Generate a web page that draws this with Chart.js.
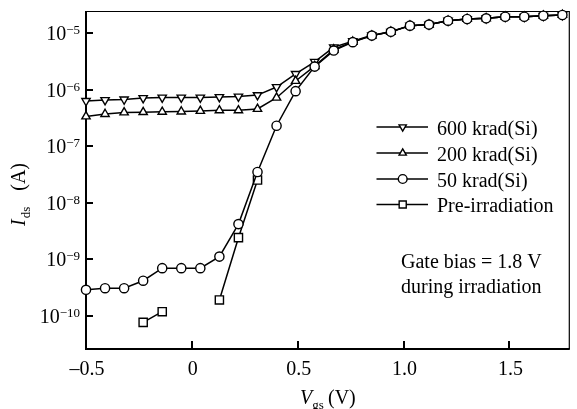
<!DOCTYPE html>
<html><head><meta charset="utf-8">
<script src="https://cdn.jsdelivr.net/npm/chart.js@4/dist/chart.umd.min.js"></script>
<style>html,body{margin:0;padding:0;background:#fff}#wrap{width:577px;height:409px}</style>
</head><body><div id="wrap"><canvas id="c" width="577" height="409"></canvas></div>
<script>
// Gate voltage (V)
const vgs = [-0.5,-0.41,-0.32,-0.23,-0.14,-0.05,0.04,0.13,0.22,0.31,0.40,0.49,0.58,0.67,0.76,0.85,0.94,1.03,1.12,1.21,1.30,1.39,1.48,1.57,1.66,1.75];
// Drain current Ids (A)
const krad600 = [6.3e-7,6.55e-7,6.7e-7,7.1e-7,7.25e-7,7.25e-7,7.25e-7,7.4e-7,7.55e-7,8.0e-7,1.11e-6,1.89e-6,3.1e-6,5.6e-6,7.2e-6,9.1e-6,1.05e-5,1.35e-5,1.41e-5,1.65e-5,1.77e-5,1.82e-5,1.94e-5,1.94e-5,2.02e-5,2.08e-5];
const krad200 = [3.35e-7,3.7e-7,3.95e-7,4.0e-7,4.05e-7,4.1e-7,4.2e-7,4.3e-7,4.3e-7,4.55e-7,7.2e-7,1.42e-6,2.6e-6,5.1e-6,7.0e-6,9.0e-6,1.05e-5,1.35e-5,1.41e-5,1.65e-5,1.77e-5,1.82e-5,1.94e-5,1.94e-5,2.02e-5,2.08e-5];
const krad50 = [2.9e-10,3.1e-10,3.1e-10,4.2e-10,7.0e-10,7.0e-10,7.0e-10,1.12e-9,4.2e-9,3.5e-8,2.3e-7,9.4e-7,2.55e-6,4.9e-6,6.9e-6,9.0e-6,1.05e-5,1.35e-5,1.41e-5,1.65e-5,1.77e-5,1.82e-5,1.94e-5,1.94e-5,2.02e-5,2.08e-5];
const preIrr = [null,null,null,7.7e-11,1.19e-10,null,null,1.92e-10,2.42e-9,2.53e-8,null,null,null,null,null,null,null,null,null,null,null,null,null,null,null,null];

const seriesNames = ['600 krad(Si)','200 krad(Si)','50 krad(Si)','Pre-irradiation'];
const xTicks = [-0.5,0,0.5,1.0,1.5];
const xTickLabels = ['\u20130.5','0','0.5','1.0','1.5'];
const yTickExps = [-5,-6,-7,-8,-9,-10];
const noteLines = ['Gate bias = 1.8 V','during irradiation'];

const SERIF = '"Liberation Serif","Times New Roman",serif';
const pts = arr => vgs.map((v,i)=>({x:v,y:arr[i]}));

const styles = [
  {pointStyle:'triangle', rotation:180, radius:4.8, order:2},
  {pointStyle:'triangle', rotation:0, radius:4.8, order:1},
  {pointStyle:'circle', rotation:0, radius:4.6, order:0},
  {pointStyle:'rect', rotation:0, radius:5.8, order:3}
];
const allData = [krad600, krad200, krad50, preIrr];

const datasets = allData.map((arr,k)=>({
  label: seriesNames[k],
  data: pts(arr),
  showLine: true,
  spanGaps: false,
  borderColor: '#000',
  borderWidth: 1.5,
  backgroundColor: '#fff',
  pointBackgroundColor: '#fff',
  pointBorderColor: '#000',
  pointBorderWidth: 1.4,
  pointStyle: styles[k].pointStyle,
  pointRotation: styles[k].rotation,
  pointRadius: styles[k].radius,
  pointHoverRadius: styles[k].radius,
  order: styles[k].order,
  tension: 0,
  clip: false
}));

function drawMarker(ctx, style, x, y, r, rot){
  ctx.save();
  ctx.translate(x,y);
  ctx.rotate(rot*Math.PI/180);
  ctx.beginPath();
  if(style==='circle'){ ctx.arc(0,0,r,0,Math.PI*2); }
  else if(style==='rect'){ const s=Math.SQRT1_2*r; ctx.rect(-s,-s,2*s,2*s); }
  else { for(let i=0;i<3;i++){ const a=-Math.PI/2+i*2*Math.PI/3; const px=Math.cos(a)*r, py=Math.sin(a)*r; i?ctx.lineTo(px,py):ctx.moveTo(px,py);} ctx.closePath(); }
  ctx.fillStyle='#fff'; ctx.fill();
  ctx.lineWidth=1.4; ctx.strokeStyle='#000'; ctx.stroke();
  ctx.restore();
}

const framePlugin = {
  id:'frame',
  beforeDatasetsDraw(chart){
    const {ctx, chartArea:a, scales:{x,y}} = chart;
    ctx.save();
    ctx.strokeStyle='#000';
    ctx.lineWidth=1.2;
    ctx.beginPath();
    ctx.moveTo(a.left, a.top+0.5); ctx.lineTo(a.right, a.top+0.5);
    ctx.moveTo(a.right-0.5, a.top); ctx.lineTo(a.right-0.5, a.bottom);
    ctx.stroke();
    ctx.lineWidth=2;
    ctx.beginPath();
    ctx.moveTo(a.left, a.top); ctx.lineTo(a.left, a.bottom+1);
    ctx.moveTo(a.left-1, a.bottom); ctx.lineTo(a.right, a.bottom);
    ctx.stroke();
    // ticks (inward)
    ctx.lineWidth=2;
    ctx.beginPath();
    xTicks.forEach(v=>{ const px=Math.round(x.getPixelForValue(v)); if(px>a.left+2){ ctx.moveTo(px, a.bottom); ctx.lineTo(px, a.bottom-8);} });
    yTickExps.forEach(e=>{ const py=Math.round(y.getPixelForValue(Math.pow(10,e))); ctx.moveTo(a.left, py); ctx.lineTo(a.left+7, py); });
    ctx.stroke();
    ctx.restore();
  },
  afterDraw(chart){
    const {ctx, chartArea:a, scales:{x,y}} = chart;
    ctx.save();
    ctx.fillStyle='#000';
    // x tick labels
    ctx.font='20px '+SERIF;
    ctx.textAlign='center'; ctx.textBaseline='alphabetic';
    xTicks.forEach((v,i)=>{ ctx.fillText(xTickLabels[i], x.getPixelForValue(v)+1, 375); });
    // y tick labels 10^e
    yTickExps.forEach(e=>{
      const py=y.getPixelForValue(Math.pow(10,e));
      const sup='\u2212'+Math.abs(e);
      ctx.font='13px '+SERIF;
      const sw=ctx.measureText(sup).width;
      ctx.textAlign='left';
      ctx.fillText(sup, 80-sw, py+1);
      ctx.font='20px '+SERIF;
      ctx.textAlign='right';
      ctx.fillText('10', 80-sw, py+7);
    });
    // x axis title
    ctx.textAlign='left';
    ctx.font='italic 20px '+SERIF;
    ctx.fillText('V', 300, 404);
    let w=ctx.measureText('V').width;
    ctx.font='13px '+SERIF;
    ctx.fillText('gs', 300+w, 409);
    ctx.font='20px '+SERIF;
    ctx.fillText('(V)', 328, 404);
    // y axis title (rotated)
    ctx.save();
    ctx.translate(25, 226);
    ctx.rotate(-Math.PI/2);
    ctx.font='italic 20px '+SERIF;
    ctx.fillText('I', 0, 0);
    w=ctx.measureText('I').width;
    ctx.font='13px '+SERIF;
    ctx.fillText('ds', w+1, 5);
    ctx.font='20px '+SERIF;
    ctx.textAlign='right';
    ctx.fillText('(A)', 226-163, 0);
    ctx.restore();
    // legend
    const legY=[127,153,179,204.5];
    const order=[0,1,2,3];
    order.forEach((k,i)=>{
      const ly=legY[i];
      ctx.strokeStyle='#000'; ctx.lineWidth=1.5;
      ctx.beginPath(); ctx.moveTo(376.5, ly); ctx.lineTo(428, ly); ctx.stroke();
      drawMarker(ctx, styles[k].pointStyle, 402.7, ly, k===3?5.0:(k===2?4.4:4.2), styles[k].rotation);
      ctx.fillStyle='#000';
      ctx.font='20px '+SERIF;
      ctx.textAlign='left';
      ctx.fillText(seriesNames[k], 437, ly+7.5);
    });
    // annotation
    ctx.font='20px '+SERIF;
    ctx.fillText(noteLines[0], 401, 268);
    ctx.fillText(noteLines[1], 401, 293);
    ctx.restore();
  }
};

new Chart(document.getElementById('c'), {
  type:'scatter',
  data:{datasets},
  options:{
    responsive:false,
    animation:false,
    devicePixelRatio:1,
    layout:{padding:{left:86,right:2,top:11,bottom:60}},
    plugins:{legend:{display:false}, tooltip:{enabled:false}},
    scales:{
      x:{type:'linear', min:-0.5, max:1.785, display:true,
         ticks:{display:false}, grid:{display:false}, border:{display:false},
         afterFit(s){ s.height=0; }},
      y:{type:'logarithmic', min:2.61e-11, max:2.45e-5, display:true,
         ticks:{display:false}, grid:{display:false}, border:{display:false},
         afterFit(s){ s.width=0; }}
    }
  },
  plugins:[framePlugin]
});
</script>
</body></html>
